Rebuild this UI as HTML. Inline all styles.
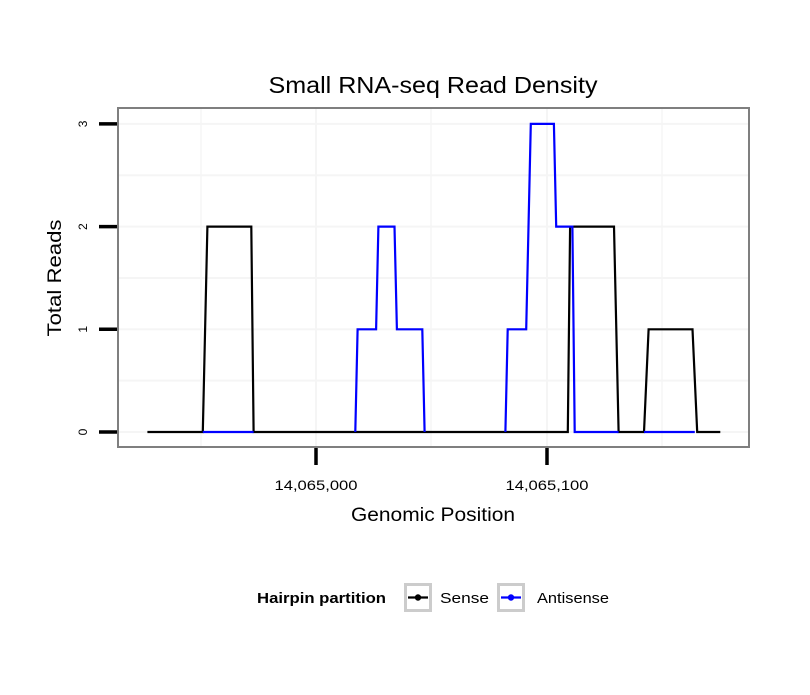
<!DOCTYPE html>
<html><head><meta charset="utf-8"><style>
body{margin:0;background:#fff}
svg text{font-family:"Liberation Sans",sans-serif}
</style></head><body>
<svg id="c" width="810" height="690" xmlns="http://www.w3.org/2000/svg"></svg>
<script>
const senseX=[14064927,14064951,14064953,14064972,14064973,14065109,14065110,14065129,14065131,14065142,14065144,14065163,14065165,14065175];
const senseY=[0,0,2,2,0,0,2,2,0,0,1,1,0,0];
const antiX=[14064951,14064973,null,14065017,14065018,14065026,14065027,14065034,14065035,14065046,14065047,null,14065082,14065083,14065091,14065093,14065103,14065104,14065111,14065112,14065131,null,14065142,14065164];
const antiY=[0,0,null,0,1,1,2,2,1,1,0,null,0,1,1,3,3,2,2,0,0,null,0,0];
const xTicks=[14065000,14065100];
const xTickLabels=["14,065,000","14,065,100"];
const yTicks=[0,1,2,3];
const yTickLabels=["0","1","2","3"];
const L=118,R=749,T=108,B=447;
const sx=v=>316+(v-14065000)*2.31;
const sy=v=>432-v*102.7;
const svg=document.getElementById('c');
const NS='http://www.w3.org/2000/svg';
function mk(t,a,txt){const e=document.createElementNS(NS,t);for(const k in a)e.setAttribute(k,a[k]);if(txt!=null)e.textContent=txt;svg.appendChild(e);return e;}
let e;
e=mk('rect',{x:L,y:T,width:R-L,height:B-T,fill:'#fff'});


[201,316,431,547,662].forEach((x,i)=>{e=mk('line',{x1:x,x2:x,y1:T,y2:B,stroke:'#f5f5f5','stroke-width':i%2?2:1.5});

});
[0,0.5,1,1.5,2,2.5,3].forEach(v=>{e=mk('line',{x1:L,x2:R,y1:sy(v),y2:sy(v),stroke:'#f5f5f5','stroke-width':2});

});
function path(xs,ys){let d='',m=true;for(let i=0;i<xs.length;i++){if(xs[i]==null){m=true;continue;}d+=(m?'M':'L')+sx(xs[i]).toFixed(1)+','+sy(ys[i]).toFixed(1);m=false;}return d;}
e=mk('path',{d:path(senseX,senseY),fill:'none',stroke:'#000','stroke-width':2.2});


e=mk('path',{d:path(antiX,antiY),fill:'none',stroke:'#0000ff','stroke-width':2.2});


e=mk('rect',{x:L,y:T,width:R-L,height:B-T,fill:'none',stroke:'#7f7f7f','stroke-width':2});


yTicks.forEach((v,i)=>{e=mk('line',{x1:99,x2:117,y1:sy(v),y2:sy(v),stroke:'#000','stroke-width':3.5});


e=mk('text',{x:0,y:0,transform:`translate(87,${sy(v)}) rotate(-90)`,'text-anchor':'middle','font-size':12},yTickLabels[i]);

});
xTicks.forEach((v,i)=>{e=mk('line',{x1:sx(v),x2:sx(v),y1:448,y2:465,stroke:'#000','stroke-width':3.5});


e=mk('text',{x:sx(v),y:490,'text-anchor':'middle','font-size':14,textLength:83,lengthAdjust:'spacingAndGlyphs'},xTickLabels[i]);

});
e=mk('text',{x:433,y:93,'text-anchor':'middle','font-size':23,textLength:329,lengthAdjust:'spacingAndGlyphs'},'Small RNA-seq Read Density');


e=mk('text',{x:433,y:521,'text-anchor':'middle','font-size':19,textLength:164,lengthAdjust:'spacingAndGlyphs'},'Genomic Position');


e=mk('text',{x:0,y:0,transform:'translate(61,278) rotate(-90)','text-anchor':'middle','font-size':19,textLength:117,lengthAdjust:'spacingAndGlyphs'},'Total Reads');


e=mk('text',{x:257,y:603,'font-size':15,'font-weight':'bold',textLength:129,lengthAdjust:'spacingAndGlyphs'},'Hairpin partition');


[[404,'#000','Sense',440,49],[497,'#0000ff','Antisense',537,72]].forEach(([x,c,t,tx,tl])=>{
e=mk('rect',{x:x+1.5,y:584.5,width:25,height:26,fill:'#fff',stroke:'#cccccc','stroke-width':3});


e=mk('line',{x1:x+4,x2:x+24,y1:597.5,y2:597.5,stroke:c,'stroke-width':2.2});


e=mk('circle',{cx:x+14,cy:597.5,r:3.2,fill:c});


e=mk('text',{x:tx,y:603,'font-size':15,textLength:tl,lengthAdjust:'spacingAndGlyphs'},t);

});
</script>
</body></html>
